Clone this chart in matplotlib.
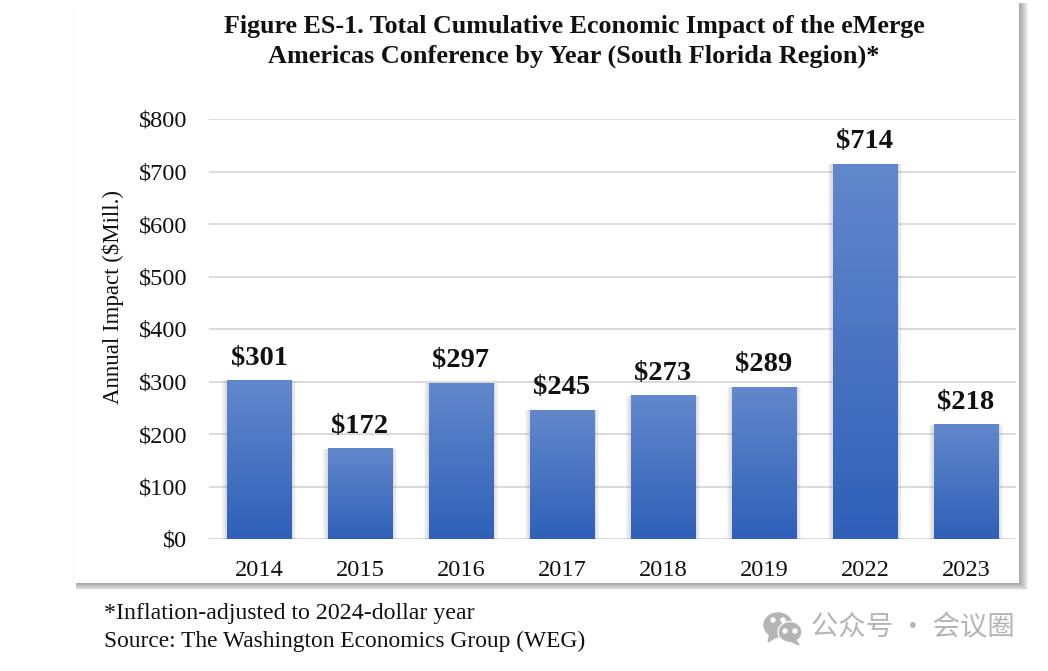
import numpy as np
import matplotlib
matplotlib.use("Agg")
import matplotlib.pyplot as plt
from matplotlib.patches import Rectangle, Ellipse, Polygon
from matplotlib.colors import LinearSegmentedColormap

years = ["2014", "2015", "2016", "2017", "2018", "2019", "2022", "2023"]
impact = [301, 172, 297, 245, 273, 289, 714, 218]
yticks = [0, 100, 200, 300, 400, 500, 600, 700, 800]

W, H = 1048, 671
plt.rcParams['font.family'] = ['Liberation Serif', 'DejaVu Serif']

fig = plt.figure(figsize=(W / 100, H / 100), dpi=100, facecolor="white")

def px_rect(x0, y0, x1, y1, **kw):  # rectangle in pixels, y from the top
    fig.patches.append(Rectangle((x0 / W, 1 - y1 / H), (x1 - x0) / W, (y1 - y0) / H,
                                 transform=fig.transFigure, **kw))

# soft shadow of the chart card, fading out to the right and below
for i in range(9, 0, -1):
    px_rect(76, 3, 1019 + i, 583 + i * 0.8, facecolor="#707070", alpha=0.09, edgecolor="none", zorder=1)
px_rect(73, 2, 1019, 583, facecolor="white", edgecolor="none", zorder=2)
px_rect(73, 8, 74, 583, facecolor="#f5f5f5", edgecolor="none", zorder=2)

ax = fig.add_axes([208.5 / W, 1 - 539 / H, 808 / W, 420 / H], facecolor="none", zorder=3)
x = np.arange(len(years))
bars = ax.bar(x, impact, width=0.64, color="#4472c4", zorder=3)

# gradient fill + thin shadow on each bar
cmap = LinearSegmentedColormap.from_list("blue", ["#2f60b8", "#6288cc"])
grad = np.linspace(0, 1, 256).reshape(-1, 1)
for b in bars:
    bx, bw, bh = b.get_x(), b.get_width(), b.get_height()
    for d, a in [(0.05, 0.07), (0.035, 0.1), (0.02, 0.14)]:
        ax.add_patch(Rectangle((bx - d, 0), bw + 2 * d, bh, facecolor="#888888",
                               alpha=a, edgecolor="none", zorder=2.5))
    ax.imshow(grad, extent=(bx, bx + bw, 0, bh), origin="lower", aspect="auto", cmap=cmap, zorder=3.2)
    ax.text(bx + bw / 2, bh + 19, "$%d" % bh, ha="center", va="bottom",
            fontsize=20.5, fontweight="bold", color="#111111", zorder=4)

ax.set_xlim(-0.5, len(years) - 0.5)
ax.set_ylim(0, 800)
ax.set_xticks(x)
ax.set_xticklabels(years)
ax.set_yticks(yticks)
ax.set_yticklabels(["$%d" % v for v in yticks])
ax.tick_params(axis="both", length=0, labelsize=17.6, labelcolor="#111111")
ax.tick_params(axis="x", pad=15)
ax.tick_params(axis="y", pad=15)
ax.grid(axis="y", color="#d9d9d9", linewidth=1.4, zorder=1)
ax.set_axisbelow(True)
for s in ax.spines.values():
    s.set_visible(False)
ax.set_ylabel("Annual Impact ($Mill.)", fontsize=16.5, color="#111111")
ax.yaxis.set_label_coords((123 - 208) / 808, (539 - 297) / 420)

title_lines = ["Figure ES-1. Total Cumulative Economic Impact of the eMerge",
               "Americas Conference by Year (South Florida Region)*"]
fig.text(574.5 / W, 1 - 27 / H, title_lines[0], ha="center", va="center", fontsize=18.7,
         fontweight="bold", color="#111111", zorder=5)
fig.text(573.5 / W, 1 - 56 / H, title_lines[1], ha="center", va="center", fontsize=18.9,
         fontweight="bold", color="#111111", zorder=5)

fig.text(104 / W, 1 - 614 / H, "*Inflation-adjusted to 2024-dollar year", fontsize=17.2,
         va="center", color="#111111")
fig.text(104 / W, 1 - 641 / H, "Source: The Washington Economics Group (WEG)", fontsize=16.8,
         va="center", color="#111111")

# watermark: chat icon + account name
ov = fig.add_axes([0, 0, 1, 1], facecolor="none", zorder=6)
ov.set_xlim(0, W)
ov.set_ylim(H, 0)
ov.axis("off")
ov.add_patch(Ellipse((778, 625), 28, 24, color="#b4b4b4"))
ov.add_patch(Polygon([[770, 633], [768, 642], [778, 636]], color="#b4b4b4"))
ov.add_patch(Ellipse((790, 632), 24, 21, color="#b4b4b4", ec="white", lw=1))
ov.add_patch(Polygon([[795, 639], [799, 645], [790, 641]], color="#b4b4b4"))
for cx, cy in [(773, 620), (783, 620), (785, 631), (795, 631)]:
    ov.add_patch(Ellipse((cx, cy), 4, 4, color="white"))
ov.text(811, 628, "公众号 · 会议圈", fontsize=19.7, va="center", color="#b4b4b4",
        family=['Noto Sans CJK SC', 'DejaVu Sans'])

fig.savefig("out.png", dpi=100)
